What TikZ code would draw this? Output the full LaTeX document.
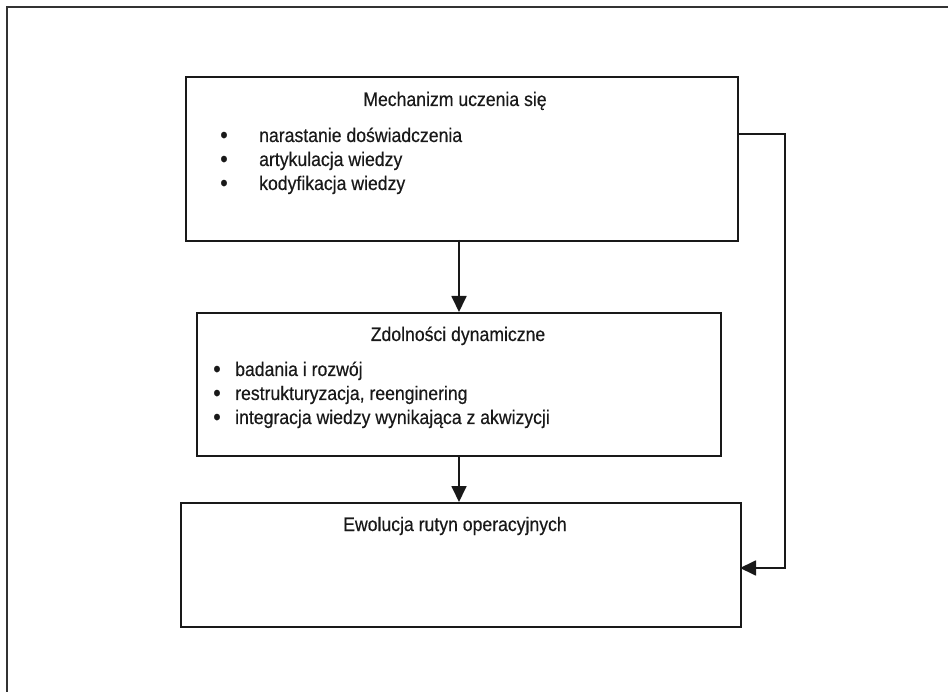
\documentclass[tikz,border=0pt]{standalone}
\usepackage{fontspec}
\setmainfont[FakeStretch=0.9,FakeBold=0.4]{Liberation Sans}
\usetikzlibrary{arrows.meta}
\begin{document}
\begin{tikzpicture}[x=1pt,y=-1pt,
  frameline/.style={line width=1.6pt,draw=black!80},
  boxline/.style={line width=1.8pt,draw=black!90},
  conn/.style={line width=1.8pt,draw=black!90,-{Triangle[length=16pt,width=15pt]}},
  plain/.style={line width=1.8pt,draw=black!90},
  txt/.style={inner sep=0pt,text=black!90,font=\fontsize{19.6}{22}\selectfont},
  title/.style={txt,anchor=base},
  item/.style={txt,anchor=base west},
  dot/.style={inner sep=0pt,anchor=base,text=black!90,font=\fontsize{24}{26}\selectfont}]
\useasboundingbox (0,0) rectangle (948,692);
\fill[white] (0,0) rectangle (948,692);
% open frame around the figure
\coordinate (fbl) at (7,692);
\coordinate (ftl) at (7,7);
\coordinate (ftr) at (948,7);
\draw[frameline] (fbl) -- (ftl) -- (ftr);
% boxes
\node[boxline,rectangle,inner sep=0pt,anchor=north west,minimum width=552,minimum height=164] (learn) at (185,76) {};
\node[boxline,rectangle,inner sep=0pt,anchor=north west,minimum width=524,minimum height=143] (dyn) at (196,312) {};
\node[boxline,rectangle,inner sep=0pt,anchor=north west,minimum width=560,minimum height=124] (evo) at (180,502) {};
% box 1 text
\node[title] (t1) at (455,106) {Mechanizm uczenia się};
\node[dot] (b11) at (224,143) {•};
\node[item] (i11) at (259,142) {narastanie doświadczenia};
\node[dot] (b12) at (224,167) {•};
\node[item] (i12) at (259,166) {artykulacja wiedzy};
\node[dot] (b13) at (224,191) {•};
\node[item] (i13) at (259,190) {kodyfikacja wiedzy};
% box 2 text
\node[title] (t2) at (458,341) {Zdolności dynamiczne};
\node[dot] (b21) at (217,377) {•};
\node[item] (i21) at (235,376) {badania i rozwój};
\node[dot] (b22) at (217,401) {•};
\node[item] (i22) at (235,400) {restrukturyzacja, reenginering};
\node[dot] (b23) at (217,425) {•};
\node[item] (i23) at (235,424) {integracja wiedzy wynikająca z akwizycji};
% box 3 text
\node[title] (t3) at (455,531) {Ewolucja rutyn operacyjnych};
% connectors
\coordinate (a1s) at (459,240);
\coordinate (a1e) at (459,312);
\draw[conn] (a1s) -- (a1e);
\coordinate (a2s) at (459,455);
\coordinate (a2e) at (459,502);
\draw[conn] (a2s) -- (a2e);
\coordinate (fb1) at (737,134);
\coordinate (fb2) at (785,134);
\coordinate (fb3) at (785,568);
\coordinate (fb4) at (740,568);
\draw[plain] (fb1) -- (fb2) -- (fb3) -- ([xshift=12pt]fb4);
\draw[conn] ([xshift=14pt]fb4) -- (fb4);
\end{tikzpicture}
\end{document}
